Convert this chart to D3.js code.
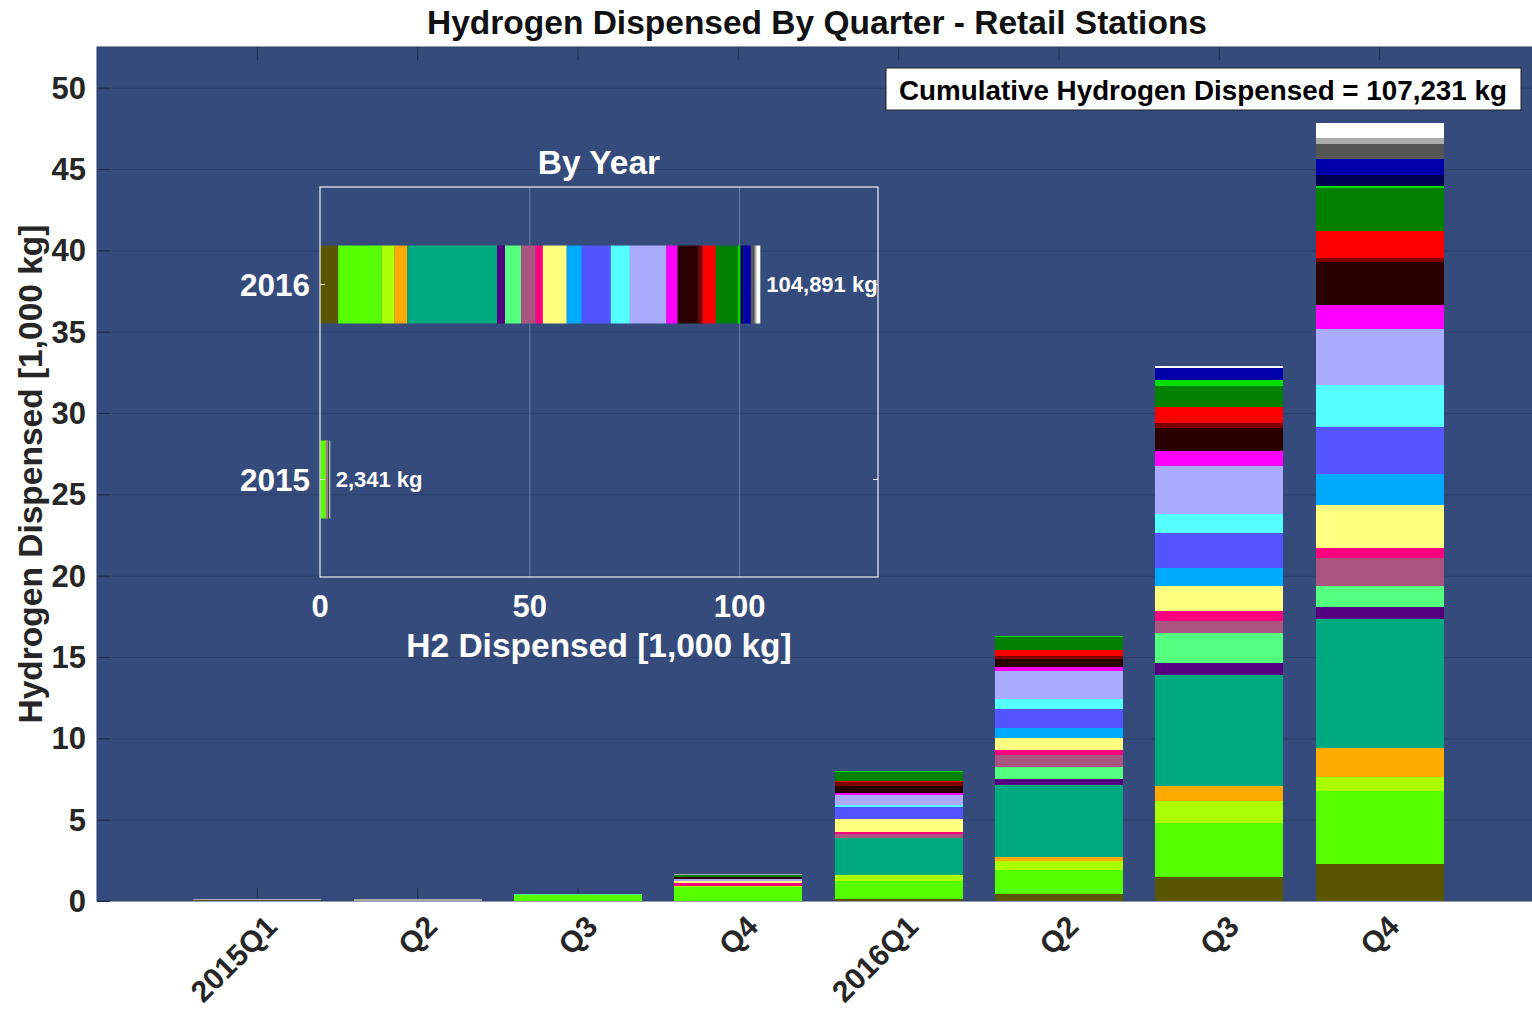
<!DOCTYPE html>
<html><head><meta charset="utf-8">
<script src="https://cdn.jsdelivr.net/npm/d3@7"></script>
<style>
html,body{margin:0;padding:0;background:#fff;}
svg text{font-family:"Liberation Sans",Arial,sans-serif;font-weight:bold;}
</style></head>
<body>
<svg id="c" width="1532" height="1009"></svg>
<script>
// ---------- DATA ----------
const quarterLabels = ["2015Q1","Q2","Q3","Q4","2016Q1","Q2","Q3","Q4"];
const quarterYears  = [2015,2015,2015,2015,2016,2016,2016,2016];
const stationColors = ["#5a5500","#55ff00","#aaff00","#ffaa00","#00aa80","#550080","#55ff80","#aa5580",
  "#ff0080","#ffff80","#00aaff","#5555ff","#55ffff","#aaaaff","#ff00ff","#2a0000","#800000","#ff0000",
  "#008000","#00dd00","#000055","#0000aa","#555555","#aaaaaa","#ffffff"];
// values in 1,000 kg, one entry per station (bottom to top)
const q2015Q1 = [0.09,0,0,0,0,0,0,0,0,0,0,0,0,0,0,0,0,0,0,0,0,0,0,0.03,0.02];
const q2015Q2 = [0.02,0,0,0,0,0,0,0,0,0,0,0,0,0,0,0,0,0,0,0,0,0,0,0.08,0];
const q2015Q3 = [0,0.36,0,0,0,0,0.05,0,0,0,0,0,0,0,0,0,0,0,0,0,0,0,0,0,0];
const q2015Q4 = [0.02,0.84,0.08,0,0,0,0,0,0.16,0.12,0,0,0,0.12,0,0.16,0,0,0.10,0,0,0,0,0.06,0];
const q2016Q1 = [0.15,1.09,0.35,0,2.28,0,0,0.25,0.14,0.78,0,0.71,0.15,0.59,0.12,0.47,0.21,0.09,0.55,0.06,0,0,0,0,0];
const q2016Q2 = [0.46,1.43,0.55,0.27,4.41,0.37,0.72,0.76,0.31,0.72,0.65,1.13,0.63,1.74,0.21,0.49,0.20,0.37,0.78,0.08,0,0,0,0,0];
const q2016Q3 = [1.46,3.32,1.35,0.96,6.81,0.76,1.81,0.76,0.62,1.54,1.09,2.15,1.17,2.93,0.92,1.40,0.31,1.00,1.29,0.37,0,0.76,0,0,0.08];
const q2016Q4 = [2.26,4.51,0.86,1.78,7.90,0.77,1.29,1.72,0.64,2.64,1.86,2.91,2.61,3.44,1.43,2.66,0.25,1.64,2.66,0.12,0.70,0.98,0.89,0.41,0.89];
const quarterValues = [q2015Q1,q2015Q2,q2015Q3,q2015Q4,q2016Q1,q2016Q2,q2016Q3,q2016Q4];
const yTicks = [0,5,10,15,20,25,30,35,40,45,50];
const insetYears = [2015,2016];
const insetLabels = ["2,341 kg","104,891 kg"];
const insetXTicks = [0,50,100];
const titleText = "Hydrogen Dispensed By Quarter - Retail Stations";
const cumulativeText = "Cumulative Hydrogen Dispensed = 107,231 kg";

// ---------- DRAW ----------
const svg = d3.select("#c");
const bg = "#354b7c";
const P = {l:97, t:47, r:1540, b:901};
const x = d3.scaleLinear().domain([0,9]).range([P.l,P.r]);
const y = d3.scaleLinear().domain([0,52.5]).range([P.b,P.t]);
const bw = (x(1)-x(0))*0.8;

svg.append("rect").attr("x",P.l).attr("y",P.t).attr("width",P.r-P.l).attr("height",P.b-P.t)
  .attr("fill",bg).attr("stroke","#2a3c64").attr("stroke-width",1);

// grid
svg.append("g").selectAll("line").data(yTicks.slice(1)).join("line")
  .attr("x1",P.l).attr("x2",P.r).attr("y1",d=>y(d)+0.5).attr("y2",d=>y(d)+0.5)
  .attr("stroke","#2d416c").attr("stroke-width",1);

// y ticks inside
svg.append("g").selectAll("line").data(yTicks).join("line")
  .attr("x1",P.l).attr("x2",P.l+13).attr("y1",d=>y(d)+0.5).attr("y2",d=>y(d)+0.5)
  .attr("stroke","#1f2d4d").attr("stroke-width",1);
// x ticks inside top & bottom
const qIdx = quarterLabels.map((d,i)=>i+1);
svg.append("g").selectAll("line").data(qIdx).join("line")
  .attr("x1",d=>x(d)).attr("x2",d=>x(d)).attr("y1",P.b).attr("y2",P.b-13)
  .attr("stroke","#1f2d4d");
svg.append("g").selectAll("line").data(qIdx).join("line")
  .attr("x1",d=>x(d)).attr("x2",d=>x(d)).attr("y1",P.t).attr("y2",P.t+13)
  .attr("stroke","#1f2d4d");

// stacked bars
const stacks = quarterValues.map((vals,qi)=>{
  let acc=0; return vals.map((v,si)=>{const o={q:qi+1,y0:acc,y1:acc+v,c:stationColors[si]}; acc+=v; return o;}).filter(d=>d.y1>d.y0);
});
svg.append("g").selectAll("g").data(stacks).join("g").selectAll("rect").data(d=>d).join("rect")
  .attr("x",d=>x(d.q)-bw/2).attr("width",bw)
  .attr("y",d=>y(d.y1)).attr("height",d=>Math.max(0.6,y(d.y0)-y(d.y1)))
  .attr("fill",d=>d.c).attr("shape-rendering","crispEdges");

// y tick labels
svg.append("g").selectAll("text").data(yTicks).join("text")
  .attr("x",P.l-11).attr("y",d=>y(d)).attr("dy","0.36em").attr("text-anchor","end")
  .attr("font-size",31).attr("fill","#262626").text(d=>d);
// x tick labels
svg.append("g").selectAll("text").data(quarterLabels).join("text")
  .attr("transform",(d,i)=>`translate(${x(i+1)+14},${P.b+20}) rotate(-45)`)
  .attr("dy","0.35em").attr("text-anchor","end").attr("font-size",30).attr("fill","#262626").text(d=>d);
// y label
svg.append("text").attr("transform",`translate(30,474) rotate(-90)`).attr("text-anchor","middle")
  .attr("dy","0.35em").attr("font-size",33.5).attr("fill","#262626").text("Hydrogen Dispensed [1,000 kg]");
// title
svg.append("text").attr("x",817).attr("y",22).attr("dy","0.36em").attr("text-anchor","middle")
  .attr("font-size",33.5).attr("fill","#111").text(titleText);

// cumulative box
svg.append("rect").attr("x",886).attr("y",68).attr("width",635).attr("height",42)
  .attr("fill","#fff").attr("stroke","#222").attr("stroke-width",1);
svg.append("text").attr("x",1203).attr("y",90).attr("dy","0.36em").attr("text-anchor","middle")
  .attr("font-size",27.8).attr("fill","#000").text(cumulativeText);

// ---------- INSET ----------
const I = {l:320, r:878, t:187, b:577};
const ix = d3.scaleLinear().domain([0,133]).range([I.l,I.r]);
const iy = d3.scaleLinear().domain([2014.5,2016.5]).range([I.b,I.t]);
const bh = (iy(0)-iy(1))*0.4;
svg.append("g").selectAll("line").data(insetXTicks.slice(1)).join("line")
  .attr("x1",d=>ix(d)).attr("x2",d=>ix(d)).attr("y1",I.t).attr("y2",I.b)
  .attr("stroke","#6a7ca3").attr("stroke-width",1);
const yearStacks = insetYears.map(yr=>{
  const qs = quarterValues.filter((v,i)=>quarterYears[i]===yr);
  let acc=0;
  return stationColors.map((c,si)=>{const v=d3.sum(qs,q=>q[si]); const o={yr,x0:acc,x1:acc+v,c}; acc+=v; return o;}).filter(d=>d.x1>d.x0);
});
svg.append("g").selectAll("g").data(yearStacks).join("g").selectAll("rect").data(d=>d).join("rect")
  .attr("y",d=>iy(d.yr)-bh/2).attr("height",bh)
  .attr("x",d=>ix(d.x0)).attr("width",d=>Math.max(0.6,ix(d.x1)-ix(d.x0)))
  .attr("fill",d=>d.c);
svg.append("rect").attr("x",I.l).attr("y",I.t).attr("width",I.r-I.l).attr("height",I.b-I.t)
  .attr("fill","none").attr("stroke","#f0f0f0").attr("stroke-width",1.2);
// inset ticks
svg.append("g").selectAll("line").data(insetYears).join("line")
  .attr("x1",I.r).attr("x2",I.r-5).attr("y1",d=>iy(d)).attr("y2",d=>iy(d)).attr("stroke","#f0f0f0");
svg.append("g").selectAll("line").data(insetYears).join("line")
  .attr("x1",I.l).attr("x2",I.l+5).attr("y1",d=>iy(d)).attr("y2",d=>iy(d)).attr("stroke","#f0f0f0");
// totals labels
const totals = yearStacks.map(s=>d3.max(s,d=>d.x1));
svg.append("g").selectAll("text").data(insetYears).join("text")
  .attr("x",(d,i)=>ix(totals[i])+6).attr("y",d=>iy(d)).attr("dy","0.36em")
  .attr("font-size",22).attr("fill","#fff").text((d,i)=>insetLabels[i]);
svg.append("g").selectAll("text").data(insetYears).join("text")
  .attr("x",I.l-10).attr("y",d=>iy(d)).attr("dy","0.36em").attr("text-anchor","end")
  .attr("font-size",31.5).attr("fill","#fff").text(d=>d);
svg.append("g").selectAll("text").data(insetXTicks).join("text")
  .attr("x",d=>ix(d)).attr("y",I.b+29).attr("dy","0.36em").attr("text-anchor","middle")
  .attr("font-size",31).attr("fill","#fff").text(d=>d);
svg.append("text").attr("x",599).attr("y",162).attr("dy","0.36em").attr("text-anchor","middle")
  .attr("font-size",33.5).attr("fill","#fff").text("By Year");
svg.append("text").attr("x",599).attr("y",645).attr("dy","0.36em").attr("text-anchor","middle")
  .attr("font-size",33.5).attr("fill","#fff").text("H2 Dispensed [1,000 kg]");
</script>
</body></html>
